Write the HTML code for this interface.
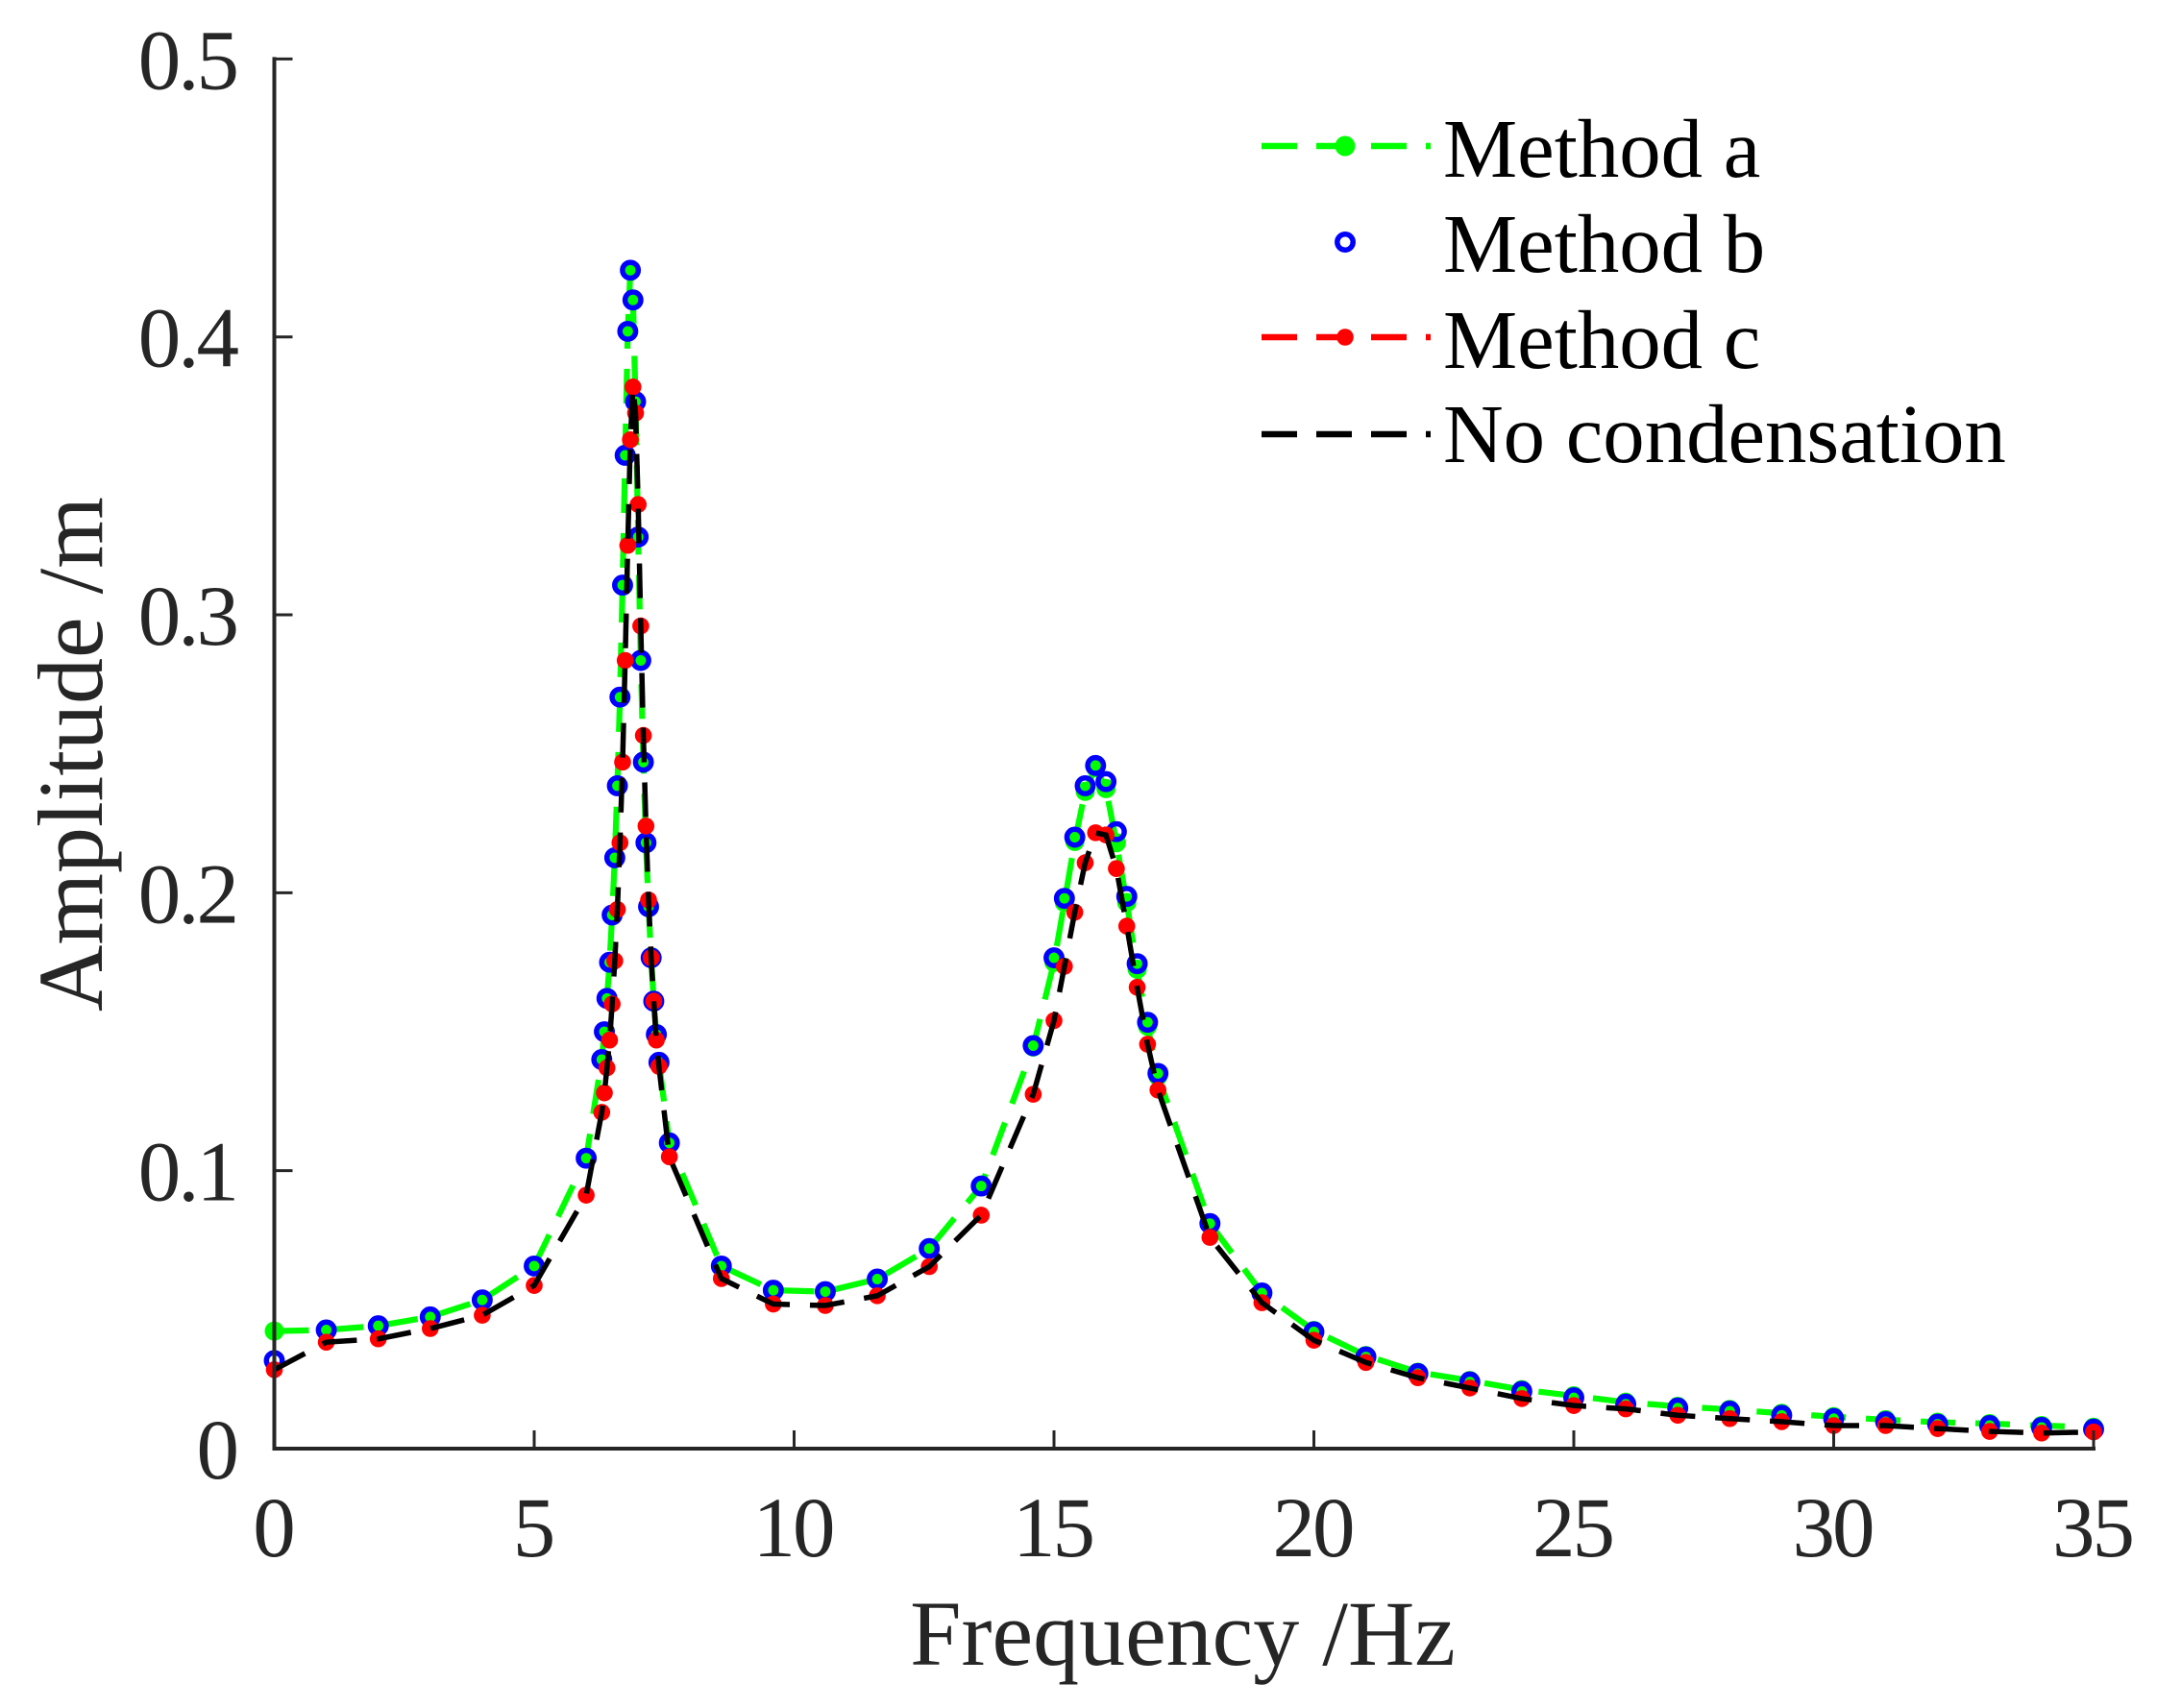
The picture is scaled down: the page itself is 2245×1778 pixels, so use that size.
<!DOCTYPE html>
<html lang="en">
<head>
<meta charset="utf-8">
<title>Amplitude vs Frequency</title>
<style>
html,body{margin:0;padding:0;background:#fff;}
svg{display:block;}
text{font-family:"Liberation Serif",serif;}
</style>
</head>
<body>
<svg id="chart" xmlns="http://www.w3.org/2000/svg" width="2245" height="1778" viewBox="0 0 2245 1778">
<rect width="2245" height="1778" fill="#fff"/>
<g id="marks"></g>
<g id="axes"></g>
<text x="1231" y="1733" font-size="96" fill="#262626" text-anchor="middle">Frequency /Hz</text>
<text transform="translate(106,785) rotate(-90)" font-size="96" fill="#262626" text-anchor="middle">Amplitude /m</text>
<g id="legend"></g>
</svg>
<script>
const frequency = [0,1,2,3,4,5,6,6.3,6.35,6.4,6.45,6.5,6.55,6.6,6.65,6.7,6.75,6.8,6.85,6.9,6.95,7,7.05,7.1,7.15,7.2,7.25,7.3,7.35,7.4,7.6,8.6,9.6,10.6,11.6,12.6,13.6,14.6,15,15.2,15.4,15.6,15.8,16,16.2,16.4,16.6,16.8,17,18,19,20,21,22,23,24,25,26,27,28,29,30,31,32,33,34,35];
const methodA = [.0423,.0427,.0442,.0474,.0535,.0657,.1045,.14,.15,.162,.175,.192,.2126,.2385,.2704,.3107,.3574,.402,.424,.4133,.3767,.328,.2836,.247,.218,.195,.1766,.161,.149,.139,.11,.0657,.057,.0565,.061,.072,.0945,.1445,.175,.1965,.2185,.2365,.245,.2375,.218,.1965,.1725,.152,.134,.081,.056,.0425,.0335,.0275,.0245,.0212,.019,.0167,.0152,.0141,.0127,.0115,.0104,.0095,.009,.0083,.0077];
const methodB = [.0317,.0427,.0442,.0474,.0535,.0657,.1045,.14,.15,.162,.175,.192,.2126,.2385,.2704,.3107,.3574,.402,.424,.4133,.3767,.328,.2836,.247,.218,.195,.1766,.161,.149,.139,.11,.0657,.057,.0565,.061,.072,.0945,.145,.1766,.198,.22,.2385,.2458,.24,.222,.1987,.1745,.1534,.135,.081,.056,.042,.033,.027,.024,.0206,.0183,.016,.0146,.0135,.012,.0108,.0097,.0088,.0083,.0076,.007];
const methodC = [.0284,.0383,.0395,.0432,.048,.0587,.0912,.121,.128,.137,.147,.16,.1755,.194,.218,.247,.2836,.325,.363,.382,.3726,.3397,.296,.2566,.224,.1974,.1766,.161,.147,.1375,.105,.0612,.052,.0515,.055,.0655,.084,.1275,.154,.1735,.193,.2108,.2216,.2208,.2087,.188,.166,.1455,.129,.076,.0525,.039,.031,.0255,.0218,.018,.0155,.0143,.012,.0108,.0097,.0083,.0083,.0072,.0062,.0056,.006];
const noCondensation = [.0284,.0383,.0395,.0432,.048,.0587,.0912,.121,.128,.137,.147,.16,.1755,.194,.218,.247,.2836,.325,.363,.382,.3726,.3397,.296,.2566,.224,.1974,.1766,.161,.147,.1375,.105,.0612,.052,.0515,.055,.0655,.084,.1275,.154,.1735,.193,.2108,.2216,.2208,.2087,.188,.166,.1455,.129,.076,.0525,.039,.031,.0255,.0218,.018,.0155,.0143,.012,.0108,.0097,.0083,.0083,.0072,.0062,.0056,.006];
const xTickValues = [0,5,10,15,20,25,30,35];
const yTickValues = [0,0.1,0.2,0.3,0.4,0.5];
const legendLabels = ["Method a","Method b","Method c","No condensation"];

const NS = "http://www.w3.org/2000/svg";
const plotLeft = 285.5, plotRight = 2179, plotTop = 61.4, plotBottom = 1508;
const xMax = 35, yMax = 0.5;
function xScale(v){ return plotLeft + (v / xMax) * (plotRight - plotLeft); }
function yScale(v){ return plotBottom - (v / yMax) * (plotBottom - plotTop); }
function make(tag, attrs, parent){
  const el = document.createElementNS(NS, tag);
  for (const k in attrs) el.setAttribute(k, attrs[k]);
  parent.appendChild(el);
  return el;
}
function pathFrom(values){
  return values.map((v,i)=> (i ? "L" : "M") + xScale(frequency[i]).toFixed(2) + " " + yScale(v).toFixed(2)).join("");
}
const marks = document.getElementById("marks");
const axes = document.getElementById("axes");
const legend = document.getElementById("legend");
const dash = "36 21";

function drawLine(values, color, width, name){
  const p = make("path", {d:pathFrom(values), fill:"none", stroke:color, "stroke-width":width, "stroke-dasharray":dash}, marks);
  
  
}
function drawDots(values, attrs, name){
  const g = make("g", {}, marks);
  
  
  values.forEach((v,i)=>{
    const c = make("circle", Object.assign({cx:xScale(frequency[i]).toFixed(2), cy:yScale(v).toFixed(2)}, attrs), g);
    
    
  });
}
drawLine(methodA, "#00ff00", 6.2, "method-a-line");
drawDots(methodA, {r:10, fill:"#00ff00"}, "method-a-points");
drawDots(methodB, {r:8.2, fill:"none", stroke:"#0000ff", "stroke-width":5.5}, "method-b-points");
drawDots(methodC, {r:8.8, fill:"#ff0000"}, "method-c-points");
drawLine(methodC, "#ff0000", 5, "method-c-line");
drawLine(noCondensation, "#000000", 5.5, "no-condensation-line");

/* axes */
const xAxisLine = make("line", {x1:plotLeft-2, x2:plotRight+2, y1:plotBottom, y2:plotBottom, stroke:"#262626", "stroke-width":4}, axes);


const yAxisLine = make("line", {x1:plotLeft, x2:plotLeft, y1:plotTop-2, y2:plotBottom+2, stroke:"#262626", "stroke-width":4}, axes);



xTickValues.forEach(v=>{
  const x = xScale(v);
  const t = make("line", {x1:x, x2:x, y1:plotBottom, y2:plotBottom-19, stroke:"#262626", "stroke-width":3}, axes);
  
  
  const l = make("text", {x:x-1.5, y:1620, "font-size":89, fill:"#262626", "text-anchor":"middle", "letter-spacing":-3}, axes);
  
  
  l.textContent = String(v);
});
yTickValues.forEach(v=>{
  const y = yScale(v);
  const t = make("line", {x1:plotLeft, x2:plotLeft+19, y1:y, y2:y, stroke:"#262626", "stroke-width":3}, axes);
  
  
  const l = make("text", {x:246, y:y+31, "font-size":89, fill:"#262626", "text-anchor":"end", "letter-spacing":-3}, axes);
  
  
  l.textContent = String(v);
});

/* legend */
const legendColors = ["#00ff00","#0000ff","#ff0000","#000000"];
const legendRowY = [152,252,351,452];
const legendBase = [184,283,383,481];
legendLabels.forEach((label,i)=>{
  const g = make("g", {}, legend);
  
  
  const y = legendRowY[i];
  if (i !== 1){
    const ln = make("line", {x1:1313, x2:1489, y1:y, y2:y, stroke:legendColors[i], "stroke-width":6.5, "stroke-dasharray":"37 20"}, g);
    
    
  }
  if (i === 0 || i === 2){
    const m = make("circle", {cx:1400, cy:y, r:i===0?10.5:8.8, fill:legendColors[i]}, g);
    
    
  }
  if (i === 1){
    const m = make("circle", {cx:1400, cy:y, r:8.2, fill:"none", stroke:legendColors[i], "stroke-width":5.5}, g);
    
    
  }
  const t = make("text", {x:1502, y:legendBase[i], "font-size":86.8, fill:"#000"}, g);
  
  
  t.textContent = label;
});
</script>
</body>
</html>
